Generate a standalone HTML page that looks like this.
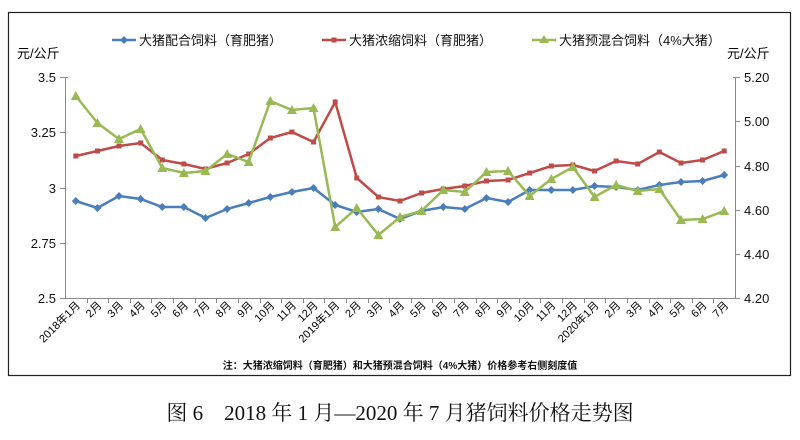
<!DOCTYPE html>
<html><head><meta charset="utf-8"><style>
body{margin:0;background:#fff;width:800px;height:435px;overflow:hidden}
svg text{font-family:"Liberation Sans","Noto Sans CJK SC",sans-serif}
</style></head><body>
<svg width="800" height="435" xmlns="http://www.w3.org/2000/svg">
<rect x="8.5" y="12.5" width="782" height="363" fill="#fff" stroke="#222" stroke-width="1.2"/>
<!-- legend -->
<g font-size="13" fill="#111">
<line x1="112" y1="40" x2="136" y2="40" stroke="#4a7ebb" stroke-width="2.5"/><path d="M124 36 L128 40 L124 44 L120 40Z" fill="#4a7ebb"/>
<text x="139" y="45">大猪配合饲料（育肥猪）</text>
<line x1="322" y1="40" x2="346" y2="40" stroke="#be4b48" stroke-width="2.5"/><rect x="331.5" y="37.5" width="5" height="5" fill="#be4b48"/>
<text x="349" y="45">大猪浓缩饲料（育肥猪）</text>
<line x1="532" y1="40" x2="556" y2="40" stroke="#98b954" stroke-width="2.5"/><path d="M544 35 L549 43 L539 43Z" fill="#98b954"/>
<text x="559" y="45">大猪预混合饲料（4%大猪）</text>
</g>
<text x="17" y="58" font-size="13">元/公斤</text>
<text x="727" y="58" font-size="13">元/公斤</text>
<!-- axes -->
<g stroke="#888" stroke-width="1" fill="none">
<path d="M68 77.5 H65.5 V298.5 H735.5 V77.5 H733"/>
<path d="M60 77.5H65 M60 132.5H65 M60 188.5H65 M60 243.5H65 M60 298.5H65 M735 77.5H740 M735 121.5H740 M735 166.5H740 M735 210.5H740 M735 254.5H740 M735 298.5H740"/>
<path id="ticks" d=""/>
</g>
<g font-size="13" text-anchor="end" fill="#111">
<text x="56" y="82">3.5</text><text x="56" y="137">3.25</text><text x="56" y="193">3</text><text x="56" y="248">2.75</text><text x="56" y="303">2.5</text>
</g>
<g font-size="13" fill="#111">
<text x="744" y="82">5.20</text><text x="744" y="126">5.00</text><text x="744" y="171">4.80</text><text x="744" y="215">4.60</text><text x="744" y="259">4.40</text><text x="744" y="303">4.20</text>
</g>
<g id="xt"></g>
<g id="series"></g>
<text x="400" y="369" font-size="10" font-weight="bold" text-anchor="middle" fill="#111">注：大猪浓缩饲料（育肥猪）和大猪预混合饲料（4%大猪）价格参考右侧刻度值</text>
<text x="400" y="420" font-size="21" text-anchor="middle" fill="#111" style="font-family:'Liberation Serif','Noto Serif CJK SC',serif">图 6　2018 年 1 月—2020 年 7 月猪饲料价格走势图</text>
</svg>
<script>
var ns="http://www.w3.org/2000/svg",s=document.querySelector("svg");
var x0=65,dx=670/31,d="";
for(var i=1;i<31;i++){var x=Math.round(x0+i*dx)+.5;d+="M"+x+" 298V303";}
document.getElementById("ticks").setAttribute("d",d);
var labels=["2018年1月","2月","3月","4月","5月","6月","7月","8月","9月","10月","11月","12月","2019年1月","2月","3月","4月","5月","6月","7月","8月","9月","10月","11月","12月","2020年1月","2月","3月","4月","5月","6月","7月"];
var xt=document.getElementById("xt");
labels.forEach(function(l,i){var x=x0+dx*(i+0.5)+5,y=306;var t=document.createElementNS(ns,"text");t.setAttribute("x",x);t.setAttribute("y",y);t.setAttribute("font-size","11");t.setAttribute("text-anchor","end");t.setAttribute("transform","rotate(-45 "+x+" "+y+")");t.textContent=l;xt.appendChild(t);});
var blue=[201,208,196,199,207,207,218,209,203,197,192,188,205,212,209,219,211,207,209,198,202,190,190,190,186,187,190,185,182,181,175];
var red=[156,151,146,143,160,164,169,163,154,138,132,142,102,178,197,201,193,189,186,181,180,173,166,165,171,161,164,152,163,160,151];
var green=[96,123,139,129,168,173,171,154,162,101,110,108,227,208,235,217,211,190,192,172,171,196,179,167,197,185,191,189,220,219,211];
var g=document.getElementById("series");
function ser(data,col,mk){var p="";data.forEach(function(y,i){p+=(i?"L":"M")+(x0+dx*(i+0.5)).toFixed(1)+" "+y;});
var pl=document.createElementNS(ns,"path");pl.setAttribute("d",p);pl.setAttribute("fill","none");pl.setAttribute("stroke",col);pl.setAttribute("stroke-width","2.5");g.appendChild(pl);
data.forEach(function(y,i){var x=x0+dx*(i+0.5),m=document.createElementNS(ns,"path"),dd;
if(mk==0)dd="M"+x+" "+(y-4)+"L"+(x+4)+" "+y+"L"+x+" "+(y+4)+"L"+(x-4)+" "+y+"Z";
else if(mk==1)dd="M"+(x-2.5)+" "+(y-2.5)+"h5v5h-5Z";
else dd="M"+x+" "+(y-5)+"L"+(x+5)+" "+(y+4)+"L"+(x-5)+" "+(y+4)+"Z";
m.setAttribute("d",dd);m.setAttribute("fill",col);g.appendChild(m);});}
ser(blue,"#4a7ebb",0);ser(red,"#be4b48",1);ser(green,"#98b954",2);
</script>
</body></html>
